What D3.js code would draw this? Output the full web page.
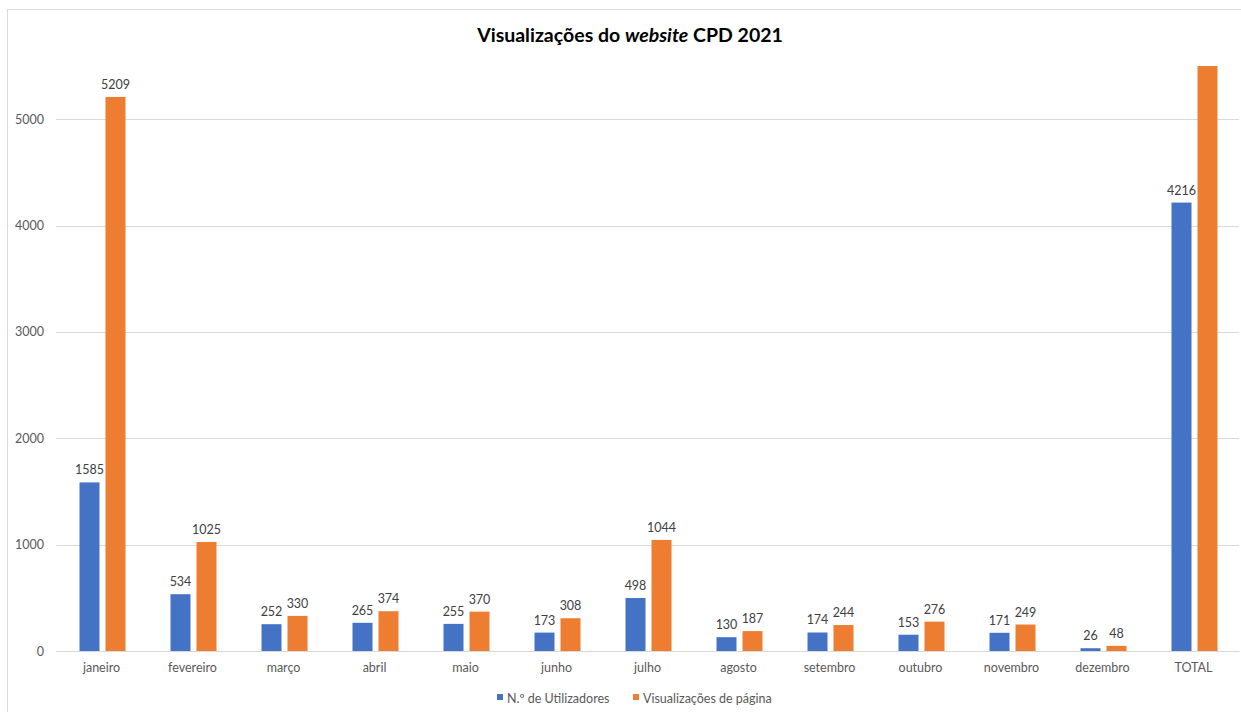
<!DOCTYPE html>
<html>
<head>
<meta charset="utf-8">
<script src="https://cdn.jsdelivr.net/npm/d3@7"></script>
<style>
  body { margin: 0; background: #fff; }
  text { font-family: Lato, "Open Sans", sans-serif; }
</style>
</head>
<body>
<script>
const months = ['janeiro', 'fevereiro', 'março', 'abril', 'maio', 'junho', 'julho',
  'agosto', 'setembro', 'outubro', 'novembro', 'dezembro', 'TOTAL'];
const utilizadores = [1585, 534, 252, 265, 255, 173, 498, 130, 174, 153, 171, 26, 4216];
const visualizacoes = [5209, 1025, 330, 374, 370, 308, 1044, 187, 244, 276, 249, 48, 9664];
const seriesNames = ['N.º de Utilizadores', 'Visualizações de página'];
const yTicks = [0, 1000, 2000, 3000, 4000, 5000];

const width = 1241;
const height = 712;
const margin = {left: 56, right: 2, top: 66, bottom: 61};
const colors = ['#4472C4', '#ED7D31'];

const svg = d3.select('body')
  .append('svg')
  .attr('width', width)
  .attr('height', height);

// chart frame
svg.append('rect')
  .attr('x', 7.5).attr('y', 9.5)
  .attr('width', 1260).attr('height', 720)
  .attr('fill', 'none')
  .attr('stroke', '#d9d9d9');

const xScale = d3.scaleBand()
  .domain(months)
  .range([margin.left, width - margin.right]);

const yScale = d3.scaleLinear()
  .domain([0, 5500])
  .range([height - margin.bottom, margin.top]);

// grid
svg.append('g')
  .selectAll('line')
  .data(yTicks)
  .join('line')
  .attr('x1', margin.left)
  .attr('x2', width - margin.right)
  .attr('y1', d => Math.round(yScale(d)) + 0.5)
  .attr('y2', d => Math.round(yScale(d)) + 0.5)
  .attr('stroke', '#d9d9d9');

// y axis labels
const yAxis = d3.axisLeft(yScale).tickValues(yTicks).tickFormat(d3.format('d'))
  .tickSize(0).tickPadding(12);
svg.append('g')
  .attr('transform', `translate(${margin.left}, 0)`)
  .call(yAxis)
  .call(g => g.select('.domain').remove())
  .call(g => g.selectAll('text')
    .attr('fill', '#595959')
    .style('font-size', '12.5px'));

const barW = 20;
const gap = 6;
const groups = months.map((m, i) => ({m, vals: [utilizadores[i], visualizacoes[i]]}));

svg.append('defs').append('clipPath').attr('id', 'plot')
  .append('rect')
  .attr('x', margin.left).attr('y', margin.top)
  .attr('width', width - margin.left - margin.right)
  .attr('height', height - margin.top - margin.bottom);

const bars = svg.append('g').attr('clip-path', 'url(#plot)');
const labels = svg.append('g');

groups.forEach(g => {
  const cx = xScale(g.m) + xScale.bandwidth() / 2 + 1;
  g.vals.forEach((v, s) => {
    const x = s === 0 ? cx - gap / 2 - barW : cx + gap / 2;
    bars.append('rect')
      .attr('x', x)
      .attr('y', yScale(v))
      .attr('width', barW)
      .attr('height', yScale(0) - yScale(v))
      .attr('fill', colors[s]);
    if (v <= 5500) {
      labels.append('text')
        .attr('x', x + barW / 2)
        .attr('y', yScale(v) - 8)
        .attr('text-anchor', 'middle')
        .attr('fill', '#404040')
        .style('font-size', '12.5px')
        .text(v);
    }
  });
});

// x axis
const xAxis = d3.axisBottom(xScale).tickSize(0).tickPadding(12);
svg.append('g')
  .attr('transform', `translate(0, ${height - margin.bottom})`)
  .call(xAxis)
  .call(g => g.select('.domain').attr('stroke', '#d9d9d9'))
  .call(g => g.selectAll('text')
    .attr('fill', '#595959')
    .style('font-size', '12.5px'));

// title
svg.append('text')
  .attr('x', 630)
  .attr('y', 42)
  .attr('text-anchor', 'middle')
  .attr('fill', '#000')
  .style('font-size', '19.5px')
  .style('font-weight', 'bold')
  .call(t => {
    t.append('tspan').text('Visualizações do ');
    t.append('tspan').style('font-style', 'italic').text('website');
    t.append('tspan').text(' CPD 2021');
  });

// legend
const legendX = [497, 633];
seriesNames.forEach((name, i) => {
  svg.append('rect')
    .attr('x', legendX[i]).attr('y', 694)
    .attr('width', 6).attr('height', 6)
    .attr('fill', colors[i]);
  svg.append('text')
    .attr('x', legendX[i] + 10)
    .attr('y', 703)
    .attr('fill', '#595959')
    .style('font-size', '12.5px')
    .text(name);
});
</script>
</body>
</html>
